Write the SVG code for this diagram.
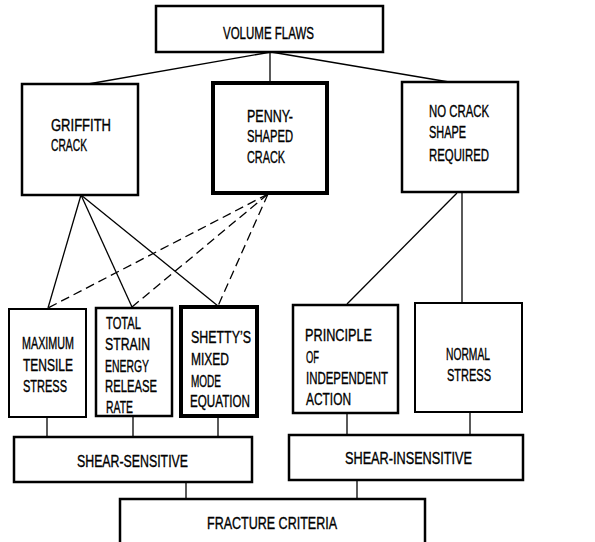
<svg xmlns="http://www.w3.org/2000/svg" width="595" height="542" viewBox="0 0 595 542">
<style>
.box{fill:#fff;stroke:#000;stroke-width:2.5}
.thick{stroke-width:4}
.thin{stroke-width:2}
text{font-family:"Liberation Sans",Arial,sans-serif;font-size:16px;fill:#000;stroke:#000;stroke-width:0.35}
.c{stroke:#000;stroke-width:1.3;fill:none}
.d{stroke-dasharray:9 5}
</style>
<rect width="595" height="542" fill="#fff"/>
<g id="connectors">
<line class="c" x1="271" y1="52" x2="88" y2="84"/>
<line class="c" x1="270" y1="52" x2="270" y2="82"/>
<line class="c" x1="271" y1="52" x2="449" y2="82"/>
<line class="c" x1="81" y1="195" x2="48" y2="308"/>
<line class="c" x1="81" y1="195" x2="132" y2="307"/>
<line class="c" x1="81" y1="195" x2="218" y2="306"/>
<line class="c d" x1="268" y1="194" x2="48" y2="308"/>
<line class="c d" x1="268" y1="194" x2="132" y2="307"/>
<line class="c d" x1="268" y1="194" x2="218" y2="306"/>
<line class="c" x1="457" y1="193" x2="347" y2="304"/>
<line class="c" x1="462" y1="193" x2="462" y2="303"/>
<line class="c" x1="47" y1="417" x2="47" y2="438"/>
<line class="c" x1="133" y1="416" x2="133" y2="438"/>
<line class="c" x1="218" y1="416" x2="218" y2="438"/>
<line class="c" x1="347" y1="413" x2="347" y2="435"/>
<line class="c" x1="470" y1="412" x2="470" y2="435"/>
<line class="c" x1="186" y1="482" x2="186" y2="499"/>
<line class="c" x1="357" y1="480" x2="357" y2="499"/>
</g>
<g id="volume-flaws">
<rect class="box" x="156" y="6" width="227" height="46"/>
<text x="223" y="39" textLength="91" lengthAdjust="spacingAndGlyphs">VOLUME FLAWS</text>
</g>
<g id="griffith">
<rect class="box" x="22" y="84" width="116" height="111"/>
<text x="51" y="131" textLength="60" lengthAdjust="spacingAndGlyphs">GRIFFITH</text>
<text x="51" y="151" textLength="36" lengthAdjust="spacingAndGlyphs">CRACK</text>
</g>
<g id="penny">
<rect class="box thick" x="213" y="83" width="114" height="110"/>
<text x="247" y="122" textLength="46" lengthAdjust="spacingAndGlyphs">PENNY-</text>
<text x="247" y="142" textLength="46" lengthAdjust="spacingAndGlyphs">SHAPED</text>
<text x="247" y="163" textLength="38" lengthAdjust="spacingAndGlyphs">CRACK</text>
</g>
<g id="no-crack">
<rect class="box" x="402" y="82" width="116" height="110"/>
<text x="429" y="117" textLength="60" lengthAdjust="spacingAndGlyphs">NO CRACK</text>
<text x="429" y="138" textLength="37" lengthAdjust="spacingAndGlyphs">SHAPE</text>
<text x="429" y="161" textLength="60" lengthAdjust="spacingAndGlyphs">REQUIRED</text>
</g>
<g id="max-tensile">
<rect class="box thin" x="9" y="309" width="77" height="108"/>
<text x="22" y="349" textLength="52" lengthAdjust="spacingAndGlyphs">MAXIMUM</text>
<text x="23" y="371" textLength="50" lengthAdjust="spacingAndGlyphs">TENSILE</text>
<text x="23" y="392" textLength="44" lengthAdjust="spacingAndGlyphs">STRESS</text>
</g>
<g id="total-strain">
<rect class="box" x="96" y="308" width="76" height="108"/>
<text x="106" y="329" textLength="35" lengthAdjust="spacingAndGlyphs">TOTAL</text>
<text x="105" y="350" textLength="45" lengthAdjust="spacingAndGlyphs">STRAIN</text>
<text x="105" y="372" textLength="44" lengthAdjust="spacingAndGlyphs">ENERGY</text>
<text x="105" y="392" textLength="52" lengthAdjust="spacingAndGlyphs">RELEASE</text>
<text x="106" y="413" textLength="27" lengthAdjust="spacingAndGlyphs">RATE</text>
</g>
<g id="shetty">
<rect class="box thick" x="181" y="307" width="76" height="109"/>
<text x="191" y="343" textLength="60" lengthAdjust="spacingAndGlyphs">SHETTY’S</text>
<text x="191" y="365" textLength="38" lengthAdjust="spacingAndGlyphs">MIXED</text>
<text x="191" y="387" textLength="30" lengthAdjust="spacingAndGlyphs">MODE</text>
<text x="190" y="407" textLength="60" lengthAdjust="spacingAndGlyphs">EQUATION</text>
</g>
<g id="principle">
<rect class="box" x="293" y="305" width="105" height="108"/>
<text x="305" y="341" textLength="67" lengthAdjust="spacingAndGlyphs">PRINCIPLE</text>
<text x="306" y="363" textLength="13" lengthAdjust="spacingAndGlyphs">OF</text>
<text x="306" y="384" textLength="82" lengthAdjust="spacingAndGlyphs">INDEPENDENT</text>
<text x="306" y="405" textLength="45" lengthAdjust="spacingAndGlyphs">ACTION</text>
</g>
<g id="normal-stress">
<rect class="box thin" x="415" y="303" width="107" height="109"/>
<text x="446" y="360" textLength="44" lengthAdjust="spacingAndGlyphs">NORMAL</text>
<text x="447" y="381" textLength="44" lengthAdjust="spacingAndGlyphs">STRESS</text>
</g>
<g id="shear-sensitive">
<rect class="box" x="14" y="437" width="238" height="45"/>
<text x="77" y="467" textLength="111" lengthAdjust="spacingAndGlyphs">SHEAR-SENSITIVE</text>
</g>
<g id="shear-insensitive">
<rect class="box" x="289" y="435" width="234" height="45"/>
<text x="345" y="464" textLength="127" lengthAdjust="spacingAndGlyphs">SHEAR-INSENSITIVE</text>
</g>
<g id="fracture-criteria">
<rect class="box" x="120" y="499" width="305" height="50"/>
<text x="207" y="529" textLength="130" lengthAdjust="spacingAndGlyphs">FRACTURE CRITERIA</text>
</g>
</svg>
